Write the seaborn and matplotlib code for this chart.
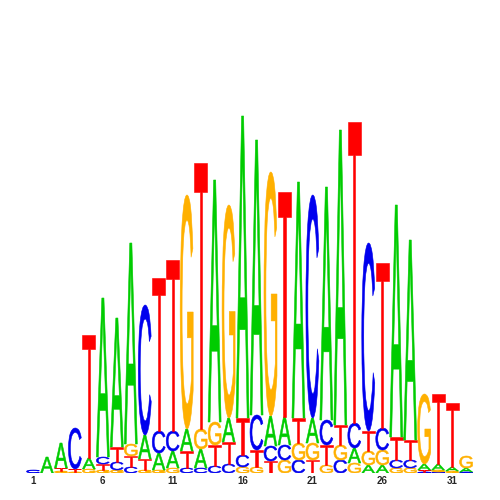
import numpy as np
import matplotlib
matplotlib.use("Agg")
import matplotlib.pyplot as plt
import seaborn as sns
from matplotlib.textpath import TextPath
from matplotlib.patches import PathPatch
from matplotlib.font_manager import FontProperties
from matplotlib.transforms import Affine2D

positions = list(range(1, 33))
height_A = [0, 16, 25, 0, 11, 159, 129, 201, 24, 17, 17, 22, 19, 242, 24, 302,
            275, 30, 28, 236, 25, 233, 295, 15, 8, 8, 232, 200, 6, 6, 4, 4]
height_C = [3, 0, 0, 41, 0, 7, 8, 6, 130, 22, 20, 5, 5, 7, 9, 12,
            35, 15, 15, 13, 223, 25, 13, 25, 188, 22, 8, 8, 1, 1, 0, 1]
height_G = [0, 0, 2, 1, 4, 3, 3, 12, 3, 3, 5, 234, 20, 23, 213, 6,
            6, 244, 13, 17, 17, 8, 15, 10, 14, 15, 5, 5, 70, 2, 2, 12]
height_T = [0, 0, 3, 3, 123, 6, 15, 11, 11, 153, 171, 17, 266, 21, 22, 37,
            17, 12, 225, 25, 13, 20, 20, 301, 20, 165, 23, 20, 2, 70, 64, 0]
tick_pos = [1, 6, 11, 16, 21, 26, 31]

colors = {'A': '#00cc00', 'C': '#0000ee', 'G': '#ffb000', 'T': '#ff0000'}

sns.set_style("white")
fig = plt.figure(figsize=(5, 5), dpi=100)
ax = fig.add_axes([0, 0.054, 1, 0.946])

font = FontProperties(family="Liberation Sans", weight="normal")
glyphs = {ch: TextPath((0, 0), ch, size=1, prop=font) for ch in "ACGT"}


def draw_letter(ch, x, y, w, h):
    p = glyphs[ch]
    ext = p.get_extents()
    tr = (Affine2D().translate(-ext.x0, -ext.y0)
          .scale(w / ext.width, h / ext.height)
          .translate(x - w / 2, y))
    ax.add_patch(PathPatch(tr.transform_path(p), facecolor=colors[ch],
                           edgecolor=colors[ch], lw=0.4))


width = 0.93
for i, pos in enumerate(positions):
    stack = [('A', height_A[i]), ('C', height_C[i]),
             ('G', height_G[i]), ('T', height_T[i])]
    # smallest letter at the bottom
    stack = sorted(stack, key=lambda s: s[1])
    y = 0
    for ch, h in stack:
        if h > 0:
            draw_letter(ch, pos, y, width, h)
            y += h

ax.set_xlim(1 - 33 / 13.97, 1 + 467 / 13.97)
ax.set_ylim(0, 473)
ax.set_xticks(tick_pos)
ax.set_xticklabels([str(t) for t in tick_pos], fontsize=7,
                   fontweight='bold', family='Liberation Sans')
ax.set_yticks([])
ax.tick_params(axis='x', length=0, pad=2.5)
sns.despine(ax=ax, left=True, bottom=True)

fig.savefig("out.png", dpi=100)
